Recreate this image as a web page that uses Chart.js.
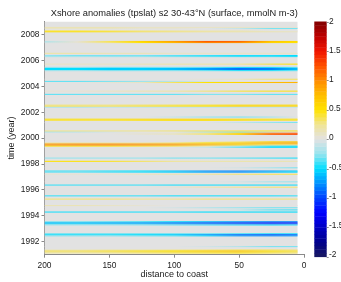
<!DOCTYPE html>
<html><head><meta charset="utf-8">
<script src="https://cdn.jsdelivr.net/npm/chart.js@4/dist/chart.umd.min.js"></script>
<style>html,body{margin:0;padding:0;background:#fff;overflow:hidden}#wrap{width:341px;height:282px;position:relative}</style>
</head><body><div id="wrap"><canvas id="c" width="341" height="282"></canvas></div>
<script>
// ---- data ----
const titleText = 'Xshore anomalies (tpslat) s2 30-43\u00B0N (surface, mmolN m-3)';
const distances = [200, 175, 150, 125, 100, 75, 50, 25, 5];
const distanceTicks = [0, 50, 100, 150, 200];
const yearTicks = [1992, 1994, 1996, 1998, 2000, 2002, 2004, 2006, 2008];
const colorTicks = [-2, -1.5, -1, -0.5, 0, 0.5, 1, 1.5, 2];
const timeStart = 1991.083;
const timeEnd = 2009.0;
const monthStep = 1 / 12;
const stripeTimes = [
  2008.542, 2008.458, 2008.292, 2008.208, 2007.458, 2007.375, 2006.542, 2006.375, 2006.292,
  2005.708, 2005.458, 2005.375, 2005.292, 2005.208, 2004.542, 2004.375, 2004.292,
  2003.625, 2003.375, 2002.542, 2002.458, 2002.375, 2001.625, 2001.458, 2001.375, 2001.208,
  2000.542, 2000.458, 2000.375, 2000.292, 1999.708, 1999.625, 1999.542, 1999.458, 1999.375, 1999.292,
  1998.458, 1998.208, 1997.708, 1997.458, 1997.375, 1997.208, 1996.625, 1996.375, 1996.208,
  1995.542, 1995.292, 1994.792, 1994.625, 1994.458, 1994.292,
  1993.542, 1993.458, 1993.375, 1993.292, 1992.625, 1992.542, 1992.458,
  1991.625, 1991.375, 1991.292, 1991.208, 1991.125
];
const stripeValues = [
  [0.15,0.15,0.15,0.1,0.1,0.1,0.1,0.05,0.05],
  [0.1,0.1,0.1,0.05,0.05,0,-0.1,-0.3,-0.3],
  [0.3,0.3,0.25,0.2,0.15,0.1,0.1,0,0],
  [0.5,0.5,0.45,0.35,0.3,0.25,0.2,0.15,0.1],
  [-0.15,0.05,0.35,0.6,0.9,1.2,1.15,0.7,0.55],
  [-0.1,0.05,0.3,0.5,0.8,1.05,1.0,0.6,0.5],
  [0.2,0.2,0.15,0.15,0.1,0.1,0.1,0.1,0.1],
  [-0.25,-0.3,-0.3,-0.3,-0.35,-0.4,-0.45,-0.45,-0.5],
  [-0.2,-0.2,-0.25,-0.25,-0.3,-0.35,-0.4,-0.4,-0.45],
  [0.1,0.1,0.1,0.15,0.2,0.2,0.25,0.4,0.5],
  [-0.25,-0.25,-0.3,-0.3,-0.3,-0.35,-0.45,-0.45,-0.35],
  [-0.5,-0.5,-0.55,-0.55,-0.6,-0.7,-0.85,-0.8,-0.6],
  [-0.5,-0.5,-0.55,-0.55,-0.6,-0.7,-0.85,-0.8,-0.6],
  [-0.25,-0.25,-0.3,-0.3,-0.3,-0.35,-0.45,-0.45,-0.35],
  [0,0,0,0,0,0.05,0.1,0.3,0.35],
  [-0.35,-0.35,-0.3,-0.25,-0.15,-0.05,0,0,0],
  [0,0,0.05,0.1,0.35,0.5,0.6,0.75,0.8],
  [0.05,0.05,0.1,0.15,0.2,0.3,0.4,0.45,0.45],
  [-0.35,-0.35,-0.35,-0.35,-0.35,-0.3,-0.3,-0.35,-0.35],
  [0.3,0.3,0.3,0.35,0.4,0.45,0.55,0.55,0.55],
  [0.35,0.35,0.35,0.4,0.45,0.5,0.6,0.6,0.6],
  [-0.15,-0.15,-0.1,-0.1,-0.1,-0.1,-0.1,-0.1,-0.1],
  [0,0,0,0,-0.1,-0.25,-0.3,-0.2,0],
  [0.5,0.5,0.5,0.55,0.6,0.6,0.55,0.5,0.5],
  [0.4,0.4,0.4,0.45,0.5,0.5,0.45,0.4,0.4],
  [0,0,0,0,0,0,-0.1,-0.25,-0.3],
  [0.3,0.3,0.3,0.3,0.35,0.4,0.45,0.5,0.55],
  [-0.2,-0.15,-0.05,0,0,-0.2,-0.3,-0.1,0],
  [0,0,0,0.05,0.1,0.3,0.6,1.1,1.2],
  [0,0,0,0.05,0.1,0.3,0.6,1.2,1.3],
  [0,0,0,0,0,0.1,0.3,0.6,0.7],
  [0.2,0.2,0.2,0.2,0.3,0.5,0.6,0.8,0.85],
  [0.9,0.95,0.95,0.9,0.85,0.75,0.7,0.75,0.8],
  [1.0,1.05,1.05,1.0,0.95,0.8,0.6,0.3,0.2],
  [0.5,0.5,0.5,0.45,0.4,0.2,-0.2,-0.45,-0.5],
  [0,0,0,0,0,-0.1,-0.35,-0.5,-0.5],
  [-0.25,-0.25,-0.25,-0.25,-0.3,-0.3,-0.35,-0.4,-0.45],
  [0.5,0.5,0.45,0.35,0.25,0.2,0.2,0.2,0.15],
  [0,0,0,0,0,0,-0.05,-0.2,-0.3],
  [-0.4,-0.4,-0.45,-0.5,-0.6,-0.75,-0.8,-0.7,-0.55],
  [-0.35,-0.35,-0.4,-0.45,-0.55,-0.7,-0.75,-0.6,-0.5],
  [0.05,0.05,0.05,0.1,0.15,0.2,0.3,0.35,0.35],
  [0,0,0,0,0,0,-0.05,-0.2,-0.25],
  [-0.4,-0.4,-0.4,-0.4,-0.45,-0.45,-0.45,-0.45,-0.45],
  [0,0,0,0,0.05,0.15,0.25,0.3,0.3],
  [-0.4,-0.4,-0.4,-0.4,-0.45,-0.45,-0.45,-0.45,-0.4],
  [0.3,0.3,0.3,0.25,0.25,0.3,0.3,0.3,0.3],
  [0.15,0.15,0.1,0.05,0,0,0,0,0],
  [0,0,0,0,-0.05,-0.15,-0.25,-0.3,-0.3],
  [0,0,0,0,0,0,-0.1,-0.35,-0.4],
  [-0.45,-0.45,-0.45,-0.45,-0.45,-0.5,-0.5,-0.5,-0.5],
  [-0.3,-0.3,-0.35,-0.4,-0.5,-0.6,-0.7,-0.8,-0.8],
  [-0.6,-0.6,-0.65,-0.7,-0.8,-0.9,-1.0,-1.1,-1.1],
  [-0.55,-0.55,-0.6,-0.65,-0.75,-0.85,-0.95,-1.05,-1.0],
  [-0.2,-0.2,-0.2,-0.25,-0.3,-0.35,-0.4,-0.45,-0.4],
  [-0.3,-0.3,-0.3,-0.3,-0.3,-0.3,-0.35,-0.4,-0.4],
  [-0.45,-0.45,-0.45,-0.5,-0.55,-0.7,-0.85,-0.9,-0.85],
  [-0.3,-0.3,-0.3,-0.35,-0.4,-0.55,-0.75,-0.8,-0.75],
  [0,0,0,0,0,-0.05,-0.15,-0.3,-0.3],
  [0.1,0.1,0.15,0.15,0.2,0.25,0.3,0.3,0.25],
  [0.35,0.35,0.4,0.45,0.5,0.6,0.65,0.45,0.4],
  [0.35,0.35,0.4,0.45,0.5,0.6,0.65,0.5,0.4],
  [0.2,0.2,0.25,0.3,0.35,0.4,0.45,0.35,0.3]
];

// ---- style ----
const FONT = "'Liberation Sans', Arial, Helvetica, sans-serif";
const TXT = '#1a1a1a';
const AX = '#8a8a8a';
const cmap = [
  [-2.0, [25, 25, 95]], [-1.75, [0, 0, 140]], [-1.5, [0, 0, 195]], [-1.25, [0, 0, 255]],
  [-1.0, [0, 64, 255]], [-0.75, [0, 145, 255]], [-0.5, [0, 222, 255]], [-0.25, [150, 228, 238]],
  [0, [226, 226, 226]], [0.25, [240, 228, 150]], [0.5, [255, 226, 0]], [0.75, [255, 190, 0]],
  [1.0, [255, 140, 0]], [1.25, [255, 80, 0]], [1.5, [240, 20, 0]], [1.75, [190, 0, 0]], [2.0, [128, 0, 0]]
];
function colorFor(v) {
  v = Math.max(-2, Math.min(2, v));
  for (let i = 0; i < cmap.length - 1; i++) {
    const [a, ca] = cmap[i], [b, cb] = cmap[i + 1];
    if (v >= a && v <= b) {
      const f = (v - a) / (b - a);
      return 'rgb(' + ca.map((c, k) => Math.round(c + (cb[k] - c) * f)).join(',') + ')';
    }
  }
  return 'rgb(226,226,226)';
}

const heatmap = {
  id: 'heatmap',
  beforeDatasetsDraw(chart) {
    const { ctx, chartArea, scales: { x, y } } = chart;
    ctx.save();
    ctx.beginPath();
    ctx.rect(chartArea.left, chartArea.top, chartArea.width, chartArea.height);
    ctx.clip();
    const x0 = x.getPixelForValue(distances[0]);
    const x1 = x.getPixelForValue(distances[distances.length - 1]);
    const yTop = y.getPixelForValue(timeEnd), yBot = y.getPixelForValue(timeStart);
    ctx.fillStyle = colorFor(0);
    ctx.fillRect(x0, yTop, x1 - x0, yBot - yTop);
    stripeTimes.forEach((t, i) => {
      const ya = y.getPixelForValue(t + monthStep / 2);
      const yb = y.getPixelForValue(t - monthStep / 2);
      const g = ctx.createLinearGradient(x0, 0, x1, 0);
      distances.forEach((d, j) => {
        g.addColorStop((x.getPixelForValue(d) - x0) / (x1 - x0), colorFor(stripeValues[i][j]));
      });
      ctx.fillStyle = g;
      ctx.fillRect(x0, ya, x1 - x0, yb - ya);
    });
    ctx.restore();
  }
};

const colorbar = {
  id: 'colorbar',
  afterDraw(chart) {
    const s = chart.scales.cb, ctx = chart.ctx;
    const bx = s.left + 10.3, bw = 12.4, n = 64;
    const top = s.getPixelForValue(2), bottom = s.getPixelForValue(-2) + 2;
    ctx.save();
    for (let k = 0; k < n; k++) {
      const ya = top + (bottom - top) * (n - k - 1) / n, yb = top + (bottom - top) * (n - k) / n;
      ctx.fillStyle = colorFor(-2 + 4 * (k + 0.5) / n);
      ctx.fillRect(bx, ya, bw, yb - ya + 0.4);
    }
    ctx.strokeStyle = AX; ctx.lineWidth = 1;
    s.ticks.forEach(t => {
      const py = Math.round(top + (bottom - top) * (2 - t.value) / 4) + 0.5;
      ctx.beginPath(); ctx.moveTo(bx + bw, py); ctx.lineTo(bx + bw + 2, py); ctx.stroke();
    });
    ctx.restore();
  }
};

const tickFont = { family: FONT, size: 8.4 };
new Chart(document.getElementById('c'), {
  type: 'scatter',
  data: { datasets: [{ data: [], xAxisID: 'x', yAxisID: 'y' }] },
  options: {
    responsive: false, animation: false, devicePixelRatio: 1,
    layout: { padding: 0 },
    plugins: {
      legend: { display: false }, tooltip: { enabled: false },
      title: { display: true, text: titleText, fullSize: false, color: TXT,
        font: { family: FONT, size: 9.3, weight: 'normal' }, padding: { top: 7.6, bottom: 2.74 } }
    },
    scales: {
      x: {
        type: 'linear', position: 'bottom', min: 0, max: 200, reverse: true,
        afterBuildTicks: s => { s.ticks = distanceTicks.map(v => ({ value: v })); },
        afterFit: s => { s.height = 27.3; },
        ticks: { font: tickFont, color: TXT, padding: 3.2, maxRotation: 0, autoSkip: false },
        grid: { drawOnChartArea: false, drawTicks: true, tickLength: 3, color: AX },
        border: { display: true, color: AX },
        title: { display: true, text: 'distance to coast', color: TXT, font: { family: FONT, size: 9 }, padding: { top: 0, bottom: 1.6 } }
      },
      y: {
        type: 'linear', position: 'left', min: 1991, max: 2009,
        afterBuildTicks: s => { s.ticks = yearTicks.map(v => ({ value: v })); },
        afterFit: s => { s.width = 44.5; s.paddingTop = 0; s.paddingBottom = 0; },
        ticks: { font: tickFont, color: TXT, padding: 2, autoSkip: false, callback: v => String(v) },
        grid: { drawOnChartArea: false, drawTicks: true, tickLength: 3, color: AX },
        border: { display: true, color: AX },
        title: { display: true, text: 'time (year)', color: TXT, font: { family: FONT, size: 9 }, padding: { top: 6.6, bottom: 0 } }
      },
      cb: {
        axis: 'y', type: 'linear', position: 'right', min: -2, max: 2,
        afterBuildTicks: s => { s.ticks = colorTicks.map(v => ({ value: v })); },
        afterFit: s => { s.width = 37; s.paddingTop = 0; s.paddingBottom = 0; },
        ticks: { font: tickFont, color: TXT, padding: 25, autoSkip: false, callback: v => String(v) },
        grid: { display: false, drawTicks: false },
        border: { display: false }
      }
    }
  },
  plugins: [heatmap, colorbar]
});
</script></body></html>
